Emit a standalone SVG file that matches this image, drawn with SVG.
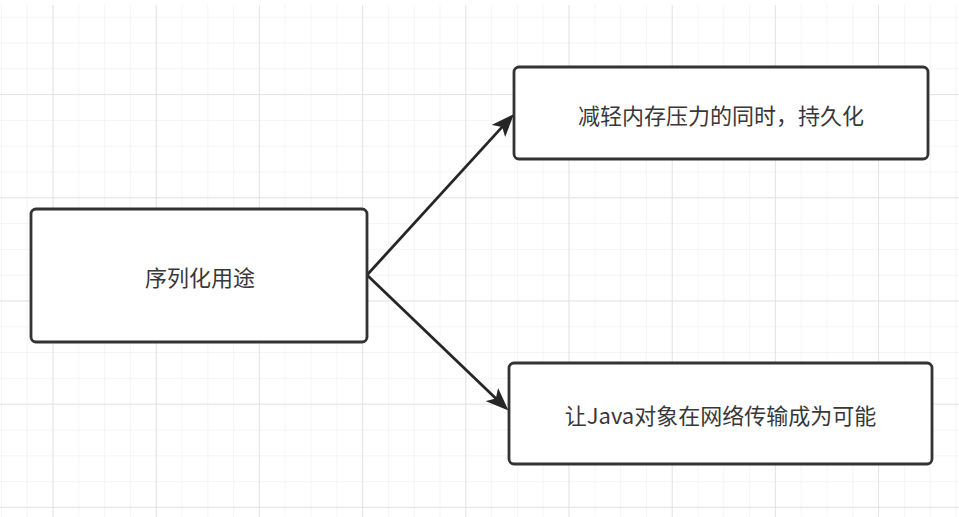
<svg xmlns="http://www.w3.org/2000/svg" width="959" height="517" viewBox="0 0 959 517">
  <defs>
    <pattern id="minor" x="0.9" y="16.7" width="25.8" height="25.8" patternUnits="userSpaceOnUse">
      <path d="M0,0 V25.8 M0,0 H25.8" fill="none" stroke="#ececec" stroke-width="1"/>
    </pattern>
    <pattern id="major" x="52.5" y="94.1" width="103.2" height="103.2" patternUnits="userSpaceOnUse">
      <path d="M0,0 V103.2 M0,0 H103.2" fill="none" stroke="#dedede" stroke-width="1.5"/>
    </pattern>
    <marker id="arrow" viewBox="0 0 23 18" markerWidth="23" markerHeight="18" refX="15" refY="9" orient="auto" markerUnits="userSpaceOnUse">
      <path d="M0,0 L23,9 L0,18 L5.5,9 z" fill="#262626"/>
    </marker>
  </defs>
  <style>
    .box { fill: #ffffff; stroke: #333333; stroke-width: 2.8; }
    .label { font-family: "Noto Sans CJK SC", "Microsoft YaHei", sans-serif; font-size: 22px; fill: #383838; text-anchor: middle; dominant-baseline: central; }
    .edge { fill: none; stroke: #262626; stroke-width: 2.8; }
  </style>
  <rect x="0" y="0" width="959" height="517" fill="#ffffff"/>
  <rect x="0" y="5" width="959" height="512" fill="url(#minor)"/>
  <rect x="0" y="5" width="959" height="512" fill="url(#major)"/>

  <g id="connectors">
    <line class="edge" x1="367" y1="275" x2="508.6" y2="119.9" marker-end="url(#arrow)"/>
    <line class="edge" x1="367" y1="275" x2="502.7" y2="405" marker-end="url(#arrow)"/>
  </g>

  <g id="node-usage">
    <rect class="box" x="31" y="209" width="336" height="133" rx="5"/>
    <text class="label" x="200" y="276">序列化用途</text>
  </g>
  <g id="node-persist">
    <rect class="box" x="514" y="67" width="414" height="92" rx="5"/>
    <text class="label" x="721" y="114">减轻内存压力的同时，持久化</text>
  </g>
  <g id="node-network">
    <rect class="box" x="509" y="363" width="423" height="101" rx="5"/>
    <text class="label" x="720.5" y="414">让Java对象在网络传输成为可能</text>
  </g>
</svg>
